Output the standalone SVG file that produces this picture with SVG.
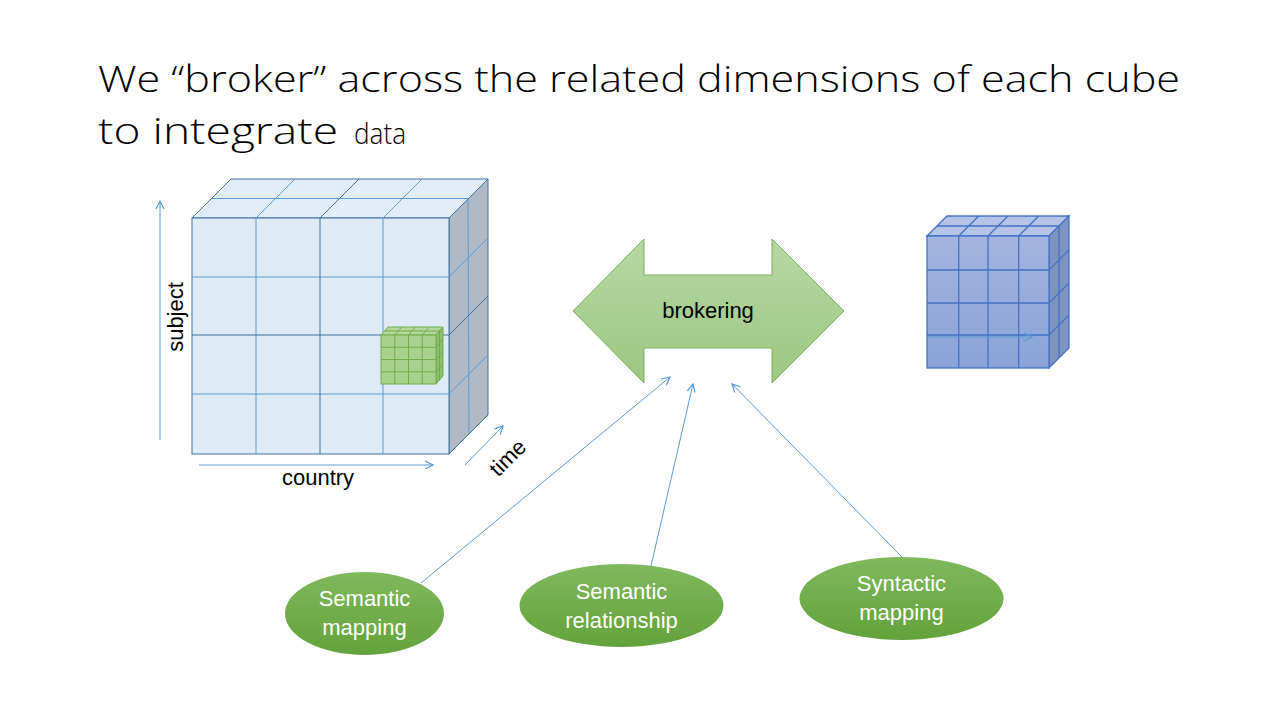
<svg xmlns="http://www.w3.org/2000/svg" width="1280" height="720" viewBox="0 0 1280 720">
<defs>
<style>
.title{font-family:"Open Sans","Liberation Sans",Arial,sans-serif;font-weight:300;fill:#000;}
.lbl{font-family:"Liberation Sans",Arial,sans-serif;font-size:22px;fill:#000;}
.ell{font-family:"Liberation Sans",Arial,sans-serif;font-size:22px;fill:#fff;text-anchor:middle;}
.conn{stroke:#5B9BD5;stroke-width:1;fill:none;}
.grid{stroke:#5B9BD5;stroke-width:1;fill:none;}
.dgrid{stroke:#41719C;stroke-width:1;fill:none;}
.ggrid{stroke:#70AD47;stroke-width:1;fill:none;}
.bgrid{stroke:#4472C4;stroke-width:1.3;fill:none;}
</style>
<marker id="open" viewBox="0 0 10 10" refX="9" refY="5" markerWidth="10" markerHeight="10" markerUnits="userSpaceOnUse" orient="auto">
<path d="M1,1 L9,5 L1,9" fill="none" stroke="#5B9BD5" stroke-width="1.2"/>
</marker>
<linearGradient id="gArrow" x1="0" y1="0" x2="0" y2="1">
<stop offset="0" stop-color="#B7D7A4"/>
<stop offset="1" stop-color="#9BC781"/>
</linearGradient>
<linearGradient id="gEll" x1="0" y1="0" x2="0" y2="1">
<stop offset="0" stop-color="#80B85D"/>
<stop offset="1" stop-color="#62A23A"/>
</linearGradient>
<linearGradient id="gBlue" x1="0" y1="0" x2="0" y2="1">
<stop offset="0" stop-color="#A3B4DF"/>
<stop offset="1" stop-color="#8AA3D8"/>
</linearGradient>
</defs>
<rect width="1280" height="720" fill="#fff"/>

<g id="title">
<text class="title" x="98" y="92" font-size="36" textLength="1082" lengthAdjust="spacingAndGlyphs">We “broker” across the related dimensions of each cube</text>
<text class="title" x="98" y="144" font-size="36" textLength="240" lengthAdjust="spacingAndGlyphs">to integrate</text>
<text class="title" x="354" y="144" font-size="29" textLength="52" lengthAdjust="spacingAndGlyphs">data</text>
</g>

<g id="cube-left">
<polygon points="192,218 231,179 488,179 449,218" fill="#E3EDF8" stroke="#41719C"/>
<polygon points="449,218 488,179 488,415 449,454" fill="#AFBAC6" stroke="#41719C"/>
<rect x="192" y="218" width="257" height="236" fill="#DEEBF7" stroke="#41719C"/>
<path class="grid" d="M256,218 V454 M383,218 V454 M192,277 H449 M192,394 H449"/>
<path class="dgrid" d="M320,218 V454 M192,335 H449"/>
<path class="grid" d="M256,218 L295,179 M383,218 L422,179 M211.5,198.5 H468.5 M468,198.5 L469,434.5 M449,277 L488,238 M449,394 L488,355"/>
<path class="dgrid" d="M320,218 L359,179 M449,335 L488,296"/>
</g>

<g id="cube-small">
<polygon points="381,335 388,327 443,327 436,335" fill="#B5D7A0" stroke="#70AD47"/>
<polygon points="436,335 443,327 443,376 436,384" fill="#8DBF6C" stroke="#70AD47"/>
<rect x="381" y="335" width="55" height="49" fill="#A9D18E" stroke="#70AD47"/>
<path class="ggrid" d="M394.75,335 V384 M408.5,335 V384 M422.25,335 V384 M381,347.25 H436 M381,359.5 H436 M381,371.75 H436 M394.75,335 L401.75,327 M408.5,335 L415.5,327 M422.25,335 L429.25,327 M384.5,331 H439.5 M439.5,331 V380 M436,347.25 L443,339.25 M436,359.5 L443,351.5 M436,371.75 L443,363.75"/>
</g>

<g id="axes">
<line class="conn" x1="160" y1="440" x2="160" y2="201" marker-end="url(#open)"/>
<line class="conn" x1="199" y1="465" x2="433" y2="465" marker-end="url(#open)"/>
<line class="conn" x1="465" y1="465" x2="503" y2="426" marker-end="url(#open)"/>
<text class="lbl" transform="translate(183,317) rotate(-90)" text-anchor="middle">subject</text>
<text class="lbl" x="318" y="485" text-anchor="middle">country</text>
<text class="lbl" transform="translate(508,458) rotate(-45)" x="0" y="7" text-anchor="middle">time</text>
</g>

<g id="cube-right">
<polygon points="927,236 947,216 1069,216 1049,236" fill="#B4C3E6" stroke="#4472C4" stroke-width="1.3"/>
<polygon points="1049,236 1069,216 1069,348 1049,368" fill="#7F93C0" stroke="#4472C4" stroke-width="1.3"/>
<rect x="927" y="236" width="122" height="132" fill="url(#gBlue)" stroke="#4472C4" stroke-width="1.3"/>
<path class="bgrid" d="M958.7,236 V368 M988,236 V368 M1018.7,236 V368 M927,270 H1049 M927,303 H1049 M927,335 H1049"/>
<path class="bgrid" d="M958.7,236 L978.7,216 M988,236 L1008,216 M1018.7,236 L1038.7,216 M937,226 H1059 M1059,226 V358 M1049,270 L1069,250 M1049,303 L1069,283 M1049,335 L1069,315"/>
<line class="conn" x1="927" y1="337" x2="1032" y2="337" marker-end="url(#open)"/>
</g>

<g id="brokering">
<polygon points="573,311 644,239 644,275 772,275 772,239 844,311 772,383 772,348 644,348 644,383" fill="url(#gArrow)" stroke="#7CB15A" stroke-width="1"/>
<text class="lbl" x="708" y="318" text-anchor="middle">brokering</text>
</g>

<g id="connectors">
<line class="conn" x1="421" y1="583" x2="670" y2="377" marker-end="url(#open)"/>
<line class="conn" x1="651" y1="566" x2="693" y2="384" marker-end="url(#open)"/>
<line class="conn" x1="902" y1="557" x2="732" y2="384" marker-end="url(#open)"/>
</g>

<g id="semantic-mapping">
<ellipse cx="364.5" cy="613.5" rx="79.5" ry="41.5" fill="url(#gEll)"/>
<text class="ell" x="364.5" y="606">Semantic</text>
<text class="ell" x="364.5" y="635">mapping</text>
</g>
<g id="semantic-relationship">
<ellipse cx="621.5" cy="605.5" rx="102" ry="41.5" fill="url(#gEll)"/>
<text class="ell" x="621.5" y="599">Semantic</text>
<text class="ell" x="621.5" y="628">relationship</text>
</g>
<g id="syntactic-mapping">
<ellipse cx="901.5" cy="598.5" rx="102" ry="41.5" fill="url(#gEll)"/>
<text class="ell" x="901.5" y="591">Syntactic</text>
<text class="ell" x="901.5" y="620">mapping</text>
</g>
</svg>
